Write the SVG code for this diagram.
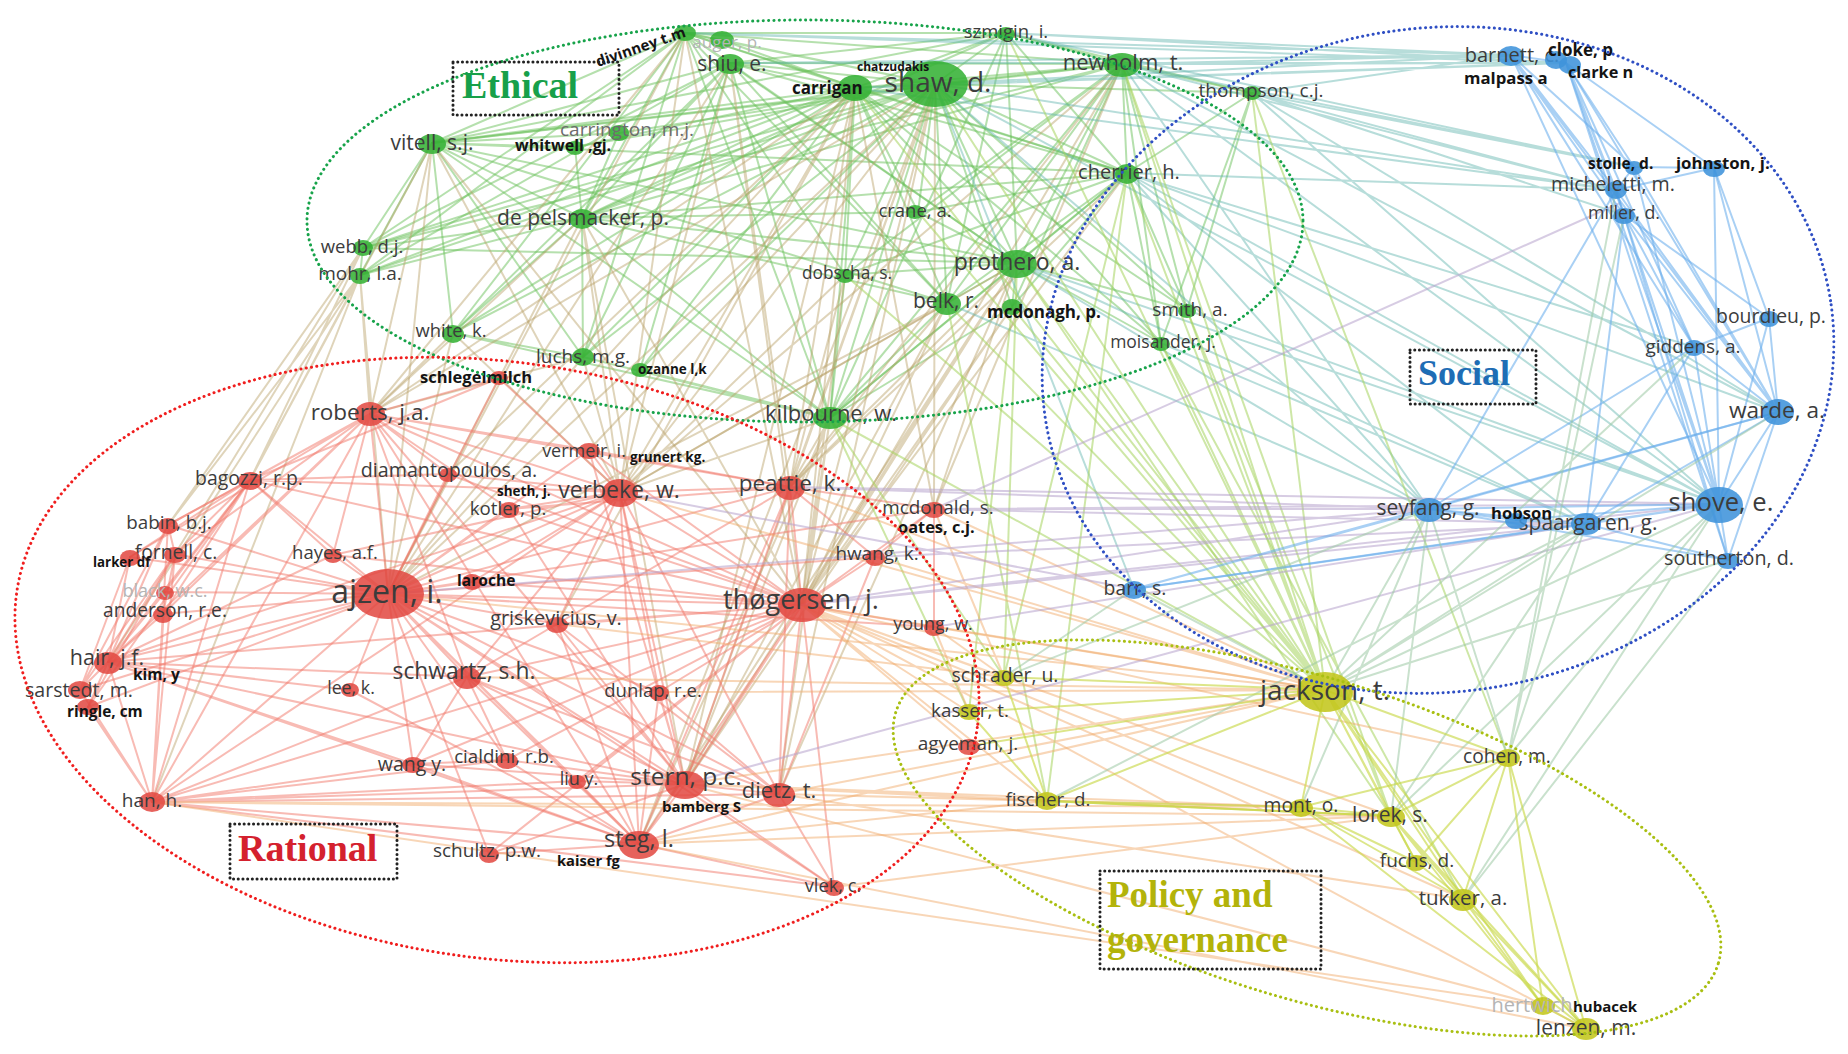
<svg xmlns="http://www.w3.org/2000/svg" width="1848" height="1054" viewBox="0 0 1848 1054">
<style>
.e path{fill:none;stroke-width:2;stroke-linecap:round}
.eg{stroke:#6cc25c;stroke-opacity:.5}
.er{stroke:#f2786a;stroke-opacity:.5}
.eb{stroke:#6aaeec;stroke-opacity:.58}
.ey{stroke:#c9d84a;stroke-opacity:.65}
.egr{stroke:#b9a066;stroke-opacity:.45}
.egb{stroke:#5fb3ad;stroke-opacity:.45}
.egy{stroke:#a6d45e;stroke-opacity:.55}
.ery{stroke:#f1aa68;stroke-opacity:.48}
.erb{stroke:#b7a2cc;stroke-opacity:.55}
.eby{stroke:#9cc9a4;stroke-opacity:.55}
.G ellipse{fill:#36b236;fill-opacity:.88}
.R ellipse{fill:#e2463f;fill-opacity:.85}
.B ellipse{fill:#3f93db;fill-opacity:.88}
.Y ellipse{fill:#c3c61c;fill-opacity:.88}
.lb{font-family:"Open Sans","Liberation Sans",sans-serif;fill:#3c3c3c;text-anchor:middle}
.fd{fill:#b4b4b4}
.gy{fill:#6c6c6c}
.bd{font-family:"Open Sans","Liberation Sans",sans-serif;font-weight:700;fill:#141414}
.cl{fill:none;stroke-width:3;stroke-dasharray:0.1 5.2;stroke-linecap:round}
.bx{fill:none;stroke:#222;stroke-width:3;stroke-dasharray:0.1 4.6;stroke-linecap:round}
.tt{font-family:"Liberation Serif","Times New Roman",serif;font-weight:700}
</style>
<rect width="1848" height="1054" fill="#fff"/>
<g id="connectors" class="e">
<path class="eg" d="M935 84L855 88M935 84L685 33M935 84L722 40M935 84L730 63M935 84L1006 33M935 84L1122 64M935 84L1252 93M935 84L1127 173M935 84L918 212M935 84L1017 263M935 84L947 303M935 84L1012 307M935 84L1187 310M935 84L1161 343M935 84L432 143M935 84L575 147M935 84L619 133M935 84L582 218M935 84L845 275M935 84L583 357M935 84L640 370M935 84L830 418M935 84L453 333M935 84L363 248M935 84L360 275"/>
<path class="eg" d="M855 88L685 33M855 88L730 63M855 88L722 40M855 88L1006 33M855 88L1122 64M855 88L1127 173M855 88L1017 263M855 88L947 303M855 88L432 143M855 88L582 218M855 88L363 248M855 88L360 275M855 88L453 333M855 88L583 357M855 88L830 418M855 88L1161 343M855 88L1187 310M855 88L845 275M855 88L918 212M855 88L575 147M855 88L640 370"/>
<path class="eg" d="M1122 64L685 33M1122 64L730 63M1122 64L1006 33M1122 64L1127 173M1122 64L1017 263M1122 64L947 303M1122 64L1012 307M1122 64L1187 310M1122 64L1161 343M1122 64L432 143M1122 64L582 218M1122 64L830 418M1122 64L1252 93M1122 64L918 212M1122 64L845 275M1122 64L363 248"/>
<path class="eg" d="M432 143L685 33M432 143L730 63M432 143L582 218M432 143L363 248M432 143L360 275M432 143L453 333M432 143L575 147M432 143L619 133M432 143L1017 263M432 143L830 418M432 143L1127 173M432 143L583 357M432 143L947 303"/>
<path class="eg" d="M685 33L730 63M685 33L722 40M685 33L1006 33M685 33L582 218M685 33L363 248M685 33L360 275M685 33L1017 263M685 33L1127 173M685 33L947 303M685 33L830 418M685 33L583 357M685 33L453 333M685 33L845 275"/>
<path class="eg" d="M730 63L582 218M730 63L363 248M730 63L360 275M730 63L1017 263M730 63L947 303M730 63L1127 173M730 63L830 418M730 63L453 333M730 63L583 357M730 63L640 370M730 63L1006 33"/>
<path class="eg" d="M1017 263L1127 173M1017 263L947 303M1017 263L1012 307M1017 263L830 418M1017 263L582 218M1017 263L845 275M1017 263L918 212M1017 263L1187 310M1017 263L1161 343M1017 263L1006 33M1017 263L363 248"/>
<path class="eg" d="M1127 173L1006 33M1127 173L1252 93M1127 173L1187 310M1127 173L1161 343M1127 173L947 303M1127 173L1012 307M1127 173L830 418M1127 173L918 212M1127 173L845 275M1127 173L582 218"/>
<path class="eg" d="M582 218L363 248M582 218L360 275M582 218L453 333M582 218L583 357M582 218L830 418M582 218L575 147M582 218L619 133M582 218L947 303M582 218L918 212M1006 33L432 143M1006 33L582 218M1006 33L947 303M1006 33L830 418M830 418L583 357M830 418L640 370M830 418L453 333M830 418L947 303M830 418L845 275M830 418L1012 307M360 275L363 248M453 333L583 357M1252 93L1187 310M1252 93L1161 343M1006 33L1252 93"/>
<path class="egr" d="M935 84L802 605M935 84L620 492M935 84L388 594M935 84L790 487M935 84L370 414M935 84L685 784M935 84L639 844M935 84L934 509M935 84L589 450M935 84L779 794"/>
<path class="egr" d="M855 88L802 605M855 88L620 492M855 88L388 594M855 88L370 414M855 88L790 487M855 88L934 509M855 88L557 624M855 88L448 474M855 88L685 784M1122 64L802 605M1122 64L790 487M1122 64L620 492M1122 64L934 509"/>
<path class="egr" d="M432 143L370 414M432 143L388 594M432 143L250 480M432 143L620 492M432 143L802 605M360 275L370 414M360 275L388 594M360 275L108 662M360 275L250 480M360 275L168 525M360 275L152 802M363 248L168 525M363 248L250 480M363 248L175 554M453 333L388 594M453 333L370 414M453 333L620 492"/>
<path class="egr" d="M685 33L620 492M685 33L802 605M685 33L370 414M685 33L388 594M730 63L620 492M730 63L790 487M730 63L802 605M730 63L388 594M1017 263L790 487M1017 263L802 605M1017 263L620 492M1017 263L779 794M1017 263L685 784M1017 263L934 509M1017 263L639 844"/>
<path class="egr" d="M947 303L802 605M947 303L620 492M947 303L790 487M947 303L388 594M947 303L685 784M830 418L802 605M830 418L790 487M830 418L685 784M830 418L779 794M830 418L620 492M830 418L639 844M583 357L370 414M583 357L388 594M583 357L620 492M582 218L370 414M582 218L620 492M582 218L802 605M582 218L388 594M582 218L685 784M1127 173L790 487M1127 173L802 605M845 275L790 487M845 275L620 492M845 275L802 605M1012 307L802 605M1012 307L685 784"/>
<path class="egb" d="M935 84L1511 55M935 84L1566 63M855 88L1511 55M855 88L1566 63M1122 64L1511 55M1122 64L1566 63M685 33L1511 55M730 63L1511 55M730 63L1566 63M1006 33L1511 55M1006 33L1566 63M1252 93L1511 55M685 33L1566 63"/>
<path class="egb" d="M1252 93L1634 167M1252 93L1616 190M1252 93L1624 215M1252 93L1719 504M1252 93L1778 412M1127 173L1719 504M1127 173L1778 412M1127 173L1429 509M1127 173L1586 524M1127 173L1694 347M1127 173L1616 190M1122 64L1634 167M1122 64L1616 190M1122 64L1719 504M1122 64L1778 412M1122 64L1429 509M935 84L1616 190M935 84L1719 504M935 84L1429 509M1017 263L1719 504M1017 263L1586 524M1017 263L1429 509M1187 310L1719 504M1161 343L1586 524M947 303L1429 509M855 88L1616 190M1006 33L1634 167M1134 589L935 84"/>
<path class="egy" d="M1127 173L1325 690M1187 310L1325 690M1161 343L1325 690M1122 64L1325 690M1017 263L1325 690M1252 93L1325 690M935 84L1325 690M947 303L1325 690M830 418L1325 690M1012 307L1325 690M918 212L1325 690M845 275L1325 690M855 88L1325 690M1006 33L1325 690"/>
<path class="egy" d="M1127 173L1004 677M1017 263L1004 677M830 418L969 712M1127 173L1047 801M947 303L1047 801M1122 64L1391 816M1252 93L1508 757M1187 310L1391 816M1161 343L1463 899M1017 263L1391 816M830 418L1004 677M1012 307L969 712"/>
<path class="er" d="M388 594L370 414M388 594L250 480M388 594L168 525M388 594L175 554M388 594L130 557M388 594L165 592M388 594L163 614M388 594L108 662M388 594L80 690M388 594L88 707M388 594L152 802M388 594L333 555M388 594L350 690M388 594L467 677M388 594L413 764M388 594L507 760M388 594L577 781M388 594L685 784M388 594L639 844M388 594L779 794M388 594L802 605M388 594L620 492M388 594L589 450M388 594L509 509M388 594L448 474M388 594L557 624M388 594L659 692M388 594L790 487M388 594L472 582M388 594L489 854M388 594L834 887M388 594L875 557M388 594L934 627M388 594L934 509"/>
<path class="er" d="M802 605L620 492M802 605L790 487M802 605L685 784M802 605L639 844M802 605L779 794M802 605L834 887M802 605L467 677M802 605L557 624M802 605L659 692M802 605L507 760M802 605L370 414M802 605L875 557M802 605L934 627M802 605L934 509M802 605L589 450M802 605L509 509M802 605L577 781M802 605L489 854M802 605L413 764M802 605L472 582M802 605L448 474M802 605L333 555M802 605L108 662M802 605L152 802M802 605L250 480"/>
<path class="er" d="M370 414L250 480M370 414L333 555M370 414L448 474M370 414L168 525M370 414L175 554M370 414L108 662M370 414L620 492M370 414L589 450M370 414L509 509M370 414L467 677M370 414L639 844M370 414L685 784M370 414L130 557M370 414L163 614M370 414L790 487M370 414L152 802"/>
<path class="er" d="M108 662L168 525M108 662L175 554M108 662L130 557M108 662L165 592M108 662L163 614M108 662L80 690M108 662L88 707M108 662L250 480M108 662L152 802M108 662L413 764M108 662L350 690M108 662L639 844M108 662L685 784M108 662L467 677M108 662L333 555M108 662L620 492"/>
<path class="er" d="M152 802L80 690M152 802L88 707M152 802L163 614M152 802L175 554M152 802L165 592M152 802L168 525M152 802L413 764M152 802L639 844M152 802L685 784M152 802L507 760M152 802L467 677M152 802L620 492M152 802L779 794M152 802L834 887M152 802L577 781M152 802L250 480"/>
<path class="er" d="M685 784L639 844M685 784L779 794M685 784L467 677M685 784L507 760M685 784L577 781M685 784L557 624M685 784L659 692M685 784L834 887M685 784L489 854M685 784L413 764M685 784L620 492M685 784L790 487M685 784L589 450M685 784L509 509"/>
<path class="er" d="M639 844L779 794M639 844L834 887M639 844L489 854M639 844L507 760M639 844L577 781M639 844L467 677M639 844L659 692M639 844L557 624M639 844L620 492M639 844L790 487M639 844L413 764M639 844L350 690M779 794L834 887M779 794L467 677M779 794L659 692M779 794L790 487M779 794L620 492M779 794L557 624M779 794L875 557"/>
<path class="er" d="M620 492L589 450M620 492L509 509M620 492L790 487M620 492L448 474M620 492L557 624M620 492L472 582M620 492L467 677M620 492L659 692M620 492L333 555M620 492L250 480M250 480L168 525M250 480L175 554M250 480L130 557M250 480L165 592M250 480L163 614M250 480L448 474M250 480L333 555M790 487L589 450M790 487L875 557M790 487L934 509M790 487L557 624M790 487L509 509"/>
<path class="er" d="M80 690L175 554M80 690L130 557M80 690L168 525M88 707L250 480M88 707L175 554M163 614L175 554M168 525L175 554M413 764L507 760M413 764L467 677M507 760L467 677M557 624L467 677M934 509L875 557M934 509L934 627M499 378L370 414M499 378L388 594M499 378L620 492M499 378L250 480"/>
<path class="ery" d="M802 605L1325 690M802 605L1004 677M802 605L969 712M802 605L1047 801M802 605L1301 807M802 605L1391 816M802 605L969 746M802 605L1463 899M802 605L1508 757M685 784L1325 690M685 784L1047 801M685 784L1301 807M685 784L1391 816M639 844L1325 690M639 844L1047 801M639 844L1391 816"/>
<path class="ery" d="M779 794L1325 690M779 794L1047 801M779 794L1301 807M779 794L1463 899M790 487L1325 690M934 627L1325 690M388 594L1325 690M934 509L1325 690M934 509L1004 677M875 557L1325 690M152 802L1391 816M152 802L1301 807M834 887L1391 816M620 492L1325 690M467 677L1325 690M659 692L1325 690M557 624L1004 677M934 627L1004 677M934 627L969 712M152 802L1543 1006M639 844L1586 1029M685 784L1543 1006M802 605L1586 1029"/>
<path class="erb" d="M934 509L1719 504M934 509L1429 509M934 509L1586 524M802 605L1719 504M802 605L1586 524M802 605L1429 509M790 487L1429 509M790 487L1719 504M620 492L1134 589M934 627L1586 524M934 509L1620 203M388 594L1429 509M685 784L1719 504M875 557L1586 524"/>
<path class="eb" d="M1719 504L1778 412M1719 504L1586 524M1719 504L1429 509M1719 504L1516 520M1719 504L1728 560M1719 504L1134 589M1719 504L1769 318M1719 504L1694 347M1719 504L1624 215M1719 504L1616 190M1719 504L1634 167M1719 504L1714 168M1719 504L1511 55M1719 504L1566 63"/>
<path class="eb" d="M1778 412L1769 318M1778 412L1694 347M1778 412L1624 215M1778 412L1616 190M1778 412L1586 524M1778 412L1429 509M1778 412L1728 560M1778 412L1714 168M1778 412L1634 167M1778 412L1566 63M1511 55L1566 63M1511 55L1616 190M1511 55L1624 215M1511 55L1634 167M1511 55L1694 347M1511 55L1778 412"/>
<path class="eb" d="M1566 63L1616 190M1566 63L1624 215M1566 63L1634 167M1566 63L1714 168M1566 63L1728 560M1566 63L1694 347M1714 168L1634 167M1714 168L1616 190M1714 168L1769 318M1586 524L1429 509M1586 524L1516 520M1586 524L1728 560M1586 524L1134 589M1586 524L1624 215M1586 524L1694 347"/>
<path class="eb" d="M1429 509L1134 589M1429 509L1516 520M1429 509L1728 560M1429 509L1694 347M1429 509L1616 190M1624 215L1769 318M1624 215L1694 347M1624 215L1728 560M1616 190L1624 215M1634 167L1616 190M1134 589L1778 412M1769 318L1694 347"/>
<path class="eby" d="M1325 690L1719 504M1325 690L1586 524M1325 690L1429 509M1325 690L1728 560M1325 690L1778 412M1325 690L1134 589M1325 690L1694 347M1508 757L1586 524M1508 757L1719 504M1508 757L1429 509M1508 757L1624 215M1508 757L1616 190M1391 816L1586 524M1391 816L1719 504M1391 816L1429 509M1463 899L1719 504M1463 899L1728 560M1301 807L1429 509M1047 801L1586 524M1004 677L1134 589M1004 677L1429 509"/>
<path class="ey" d="M1325 690L1004 677M1325 690L969 712M1325 690L969 746M1325 690L1047 801M1325 690L1301 807M1325 690L1391 816M1325 690L1508 757M1325 690L1416 862M1325 690L1463 899M1325 690L1543 1006M1325 690L1586 1029"/>
<path class="ey" d="M1391 816L1301 807M1391 816L1508 757M1391 816L1416 862M1391 816L1463 899M1391 816L1543 1006M1391 816L1586 1029M1391 816L1047 801M1508 757L1416 862M1508 757L1463 899M1508 757L1543 1006M1508 757L1586 1029M1508 757L1301 807"/>
<path class="ey" d="M1463 899L1416 862M1463 899L1543 1006M1463 899L1586 1029M1463 899L1301 807M1047 801L1004 677M1047 801L969 712M1047 801L1301 807M1543 1006L1586 1029M1301 807L1416 862M1301 807L1586 1029M1047 801L1391 816"/>
</g>
<g id="nodes">
<g id="n-shaw" class="G"><ellipse cx="935" cy="84" rx="33" ry="23"/><text class="lb" x="938" y="92" font-size="28">shaw, d.</text></g>
<g id="n-carrigan" class="G"><ellipse cx="855" cy="88" rx="17" ry="13"/><text class="bd" x="792" y="94" font-size="17">carrigan</text></g>
<g id="n-chatzudakis" class="G"><text class="bd" x="857" y="71" font-size="12">chatzudakis</text></g>
<g id="n-divinney" class="G"><ellipse cx="685" cy="33" rx="11" ry="8"/><text class="bd" font-size="15" transform="translate(598 67) rotate(-19)">divinney t.m</text></g>
<g id="n-auger" class="G"><ellipse cx="722" cy="40" rx="12" ry="9"/><text class="lb fd" x="727" y="48" font-size="17">auger, p.</text></g>
<g id="n-shiu" class="G"><ellipse cx="730" cy="64" rx="14" ry="10"/><text class="lb" x="732" y="71" font-size="21">shiu, e.</text></g>
<g id="n-szmigin" class="G"><ellipse cx="1006" cy="34" rx="9" ry="7"/><text class="lb" x="1006" y="38" font-size="18.5">szmigin, i.</text></g>
<g id="n-newholm" class="G"><ellipse cx="1122" cy="65" rx="18" ry="12"/><text class="lb" x="1123" y="70" font-size="22">newholm, t.</text></g>
<g id="n-thompson" class="G"><ellipse cx="1252" cy="93" rx="9" ry="7"/><text class="lb" x="1261" y="97" font-size="19">thompson, c.j.</text></g>
<g id="n-cherrier" class="G"><ellipse cx="1127" cy="174" rx="12" ry="10"/><text class="lb" x="1129" y="179" font-size="20">cherrier, h.</text></g>
<g id="n-crane" class="G"><ellipse cx="915" cy="212" rx="9" ry="7"/><text class="lb" x="915" y="217" font-size="18.5">crane, a.</text></g>
<g id="n-prothero" class="G"><ellipse cx="1017" cy="264" rx="20" ry="14"/><text class="lb" x="1017" y="270" font-size="23">prothero, a.</text></g>
<g id="n-belk" class="G"><ellipse cx="947" cy="304" rx="14" ry="11"/><text class="lb" x="946" y="308" font-size="21">belk, r.</text></g>
<g id="n-mcdonagh" class="G"><ellipse cx="1012" cy="307" rx="10" ry="8"/><text class="bd" x="987" y="318" font-size="17">mcdonagh, p.</text></g>
<g id="n-smith" class="G"><ellipse cx="1187" cy="311" rx="9" ry="7"/><text class="lb" x="1190" y="316" font-size="19">smith, a.</text></g>
<g id="n-moisander" class="G"><ellipse cx="1161" cy="344" rx="9" ry="7"/><text class="lb" x="1163" y="348" font-size="17.5">moisander, j.</text></g>
<g id="n-vitell" class="G"><ellipse cx="432" cy="144" rx="14" ry="10"/><text class="lb" x="432" y="150" font-size="21">vitell, s.j.</text></g>
<g id="n-whitwell" class="G"><ellipse cx="575" cy="148" rx="9" ry="7"/><text class="bd" x="515" y="151" font-size="16">whitwell ,gj.</text></g>
<g id="n-carrington" class="G"><ellipse cx="619" cy="133" rx="10" ry="8"/><text class="lb gy" x="627" y="136" font-size="19">carrington, m.j.</text></g>
<g id="n-depelsmacker" class="G"><ellipse cx="582" cy="219" rx="13" ry="10"/><text class="lb" x="583" y="225" font-size="21">de pelsmacker, p.</text></g>
<g id="n-webb" class="G"><ellipse cx="363" cy="248" rx="10" ry="8"/><text class="lb" x="362" y="253" font-size="18.5">webb, d.j.</text></g>
<g id="n-mohr" class="G"><ellipse cx="360" cy="276" rx="10" ry="8"/><text class="lb" x="360" y="280" font-size="19">mohr, l.a.</text></g>
<g id="n-white" class="G"><ellipse cx="453" cy="334" rx="11" ry="9"/><text class="lb" x="451" y="337" font-size="18.4">white, k.</text></g>
<g id="n-dobscha" class="G"><ellipse cx="845" cy="276" rx="9" ry="7"/><text class="lb" x="847" y="279" font-size="17.3">dobscha, s.</text></g>
<g id="n-luchs" class="G"><ellipse cx="583" cy="357" rx="11" ry="9"/><text class="lb" x="583" y="363" font-size="19">luchs, m.g.</text></g>
<g id="n-ozanne" class="G"><ellipse cx="640" cy="370" rx="9" ry="7"/><text class="bd" x="638" y="374" font-size="13.5">ozanne l,k</text></g>
<g id="n-kilbourne" class="G"><ellipse cx="830" cy="418" rx="17" ry="11"/><text class="lb" x="831" y="421" font-size="22">kilbourne, w.</text></g>
<g id="n-schlegelmilch" class="R"><ellipse cx="499" cy="378" rx="9" ry="7"/><text class="bd" x="420" y="383" font-size="16.5">schlegelmilch</text></g>
<g id="n-ajzen" class="R"><ellipse cx="388" cy="594" rx="36" ry="25"/><text class="lb" x="387" y="603" font-size="32">ajzen, i.</text></g>
<g id="n-thogersen" class="R"><ellipse cx="802" cy="605" rx="24" ry="17"/><text class="lb" x="801" y="609" font-size="27">thøgersen, j.</text></g>
<g id="n-verbeke" class="R"><ellipse cx="620" cy="493" rx="18" ry="14"/><text class="lb" x="619" y="498" font-size="23">verbeke, w.</text></g>
<g id="n-stern" class="R"><ellipse cx="685" cy="785" rx="20" ry="14"/><text class="lb" x="686" y="785" font-size="24.5">stern, p.c.</text></g>
<g id="n-steg" class="R"><ellipse cx="639" cy="845" rx="20" ry="14"/><text class="lb" x="639" y="847" font-size="23.5">steg, l.</text></g>
<g id="n-dietz" class="R"><ellipse cx="779" cy="795" rx="16" ry="12"/><text class="lb" x="779" y="798" font-size="22">dietz, t.</text></g>
<g id="n-roberts" class="R"><ellipse cx="370" cy="414" rx="15" ry="12"/><text class="lb" x="370" y="420" font-size="22.5">roberts, j.a.</text></g>
<g id="n-peattie" class="R"><ellipse cx="790" cy="488" rx="15" ry="12"/><text class="lb" x="790" y="491" font-size="22.5">peattie, k.</text></g>
<g id="n-schwartz" class="R"><ellipse cx="467" cy="678" rx="14" ry="11"/><text class="lb" x="464" y="679" font-size="22.8">schwartz, s.h.</text></g>
<g id="n-hair" class="R"><ellipse cx="108" cy="663" rx="14" ry="11"/><text class="lb" x="107" y="665" font-size="21.5">hair, j.f.</text></g>
<g id="n-kim" class="R"><text class="bd" x="133" y="680" font-size="15.5">kim, y</text></g>
<g id="n-sarstedt" class="R"><ellipse cx="80" cy="690" rx="12" ry="9"/><text class="lb" x="79" y="697" font-size="19.6">sarstedt, m.</text></g>
<g id="n-ringle" class="R"><ellipse cx="88" cy="707" rx="11" ry="8"/><text class="bd" x="67" y="717" font-size="15.4">ringle, cm</text></g>
<g id="n-han" class="R"><ellipse cx="152" cy="802" rx="13" ry="10"/><text class="lb" x="152" y="807" font-size="19">han, h.</text></g>
<g id="n-bagozzi" class="R"><ellipse cx="250" cy="481" rx="12" ry="9"/><text class="lb" x="249" y="485" font-size="19.4">bagozzi, r.p.</text></g>
<g id="n-babin" class="R"><ellipse cx="168" cy="526" rx="10" ry="8"/><text class="lb" x="169" y="529" font-size="18.8">babin, b.j.</text></g>
<g id="n-fornell" class="R"><ellipse cx="175" cy="555" rx="11" ry="8"/><text class="lb" x="176" y="559" font-size="19.3">fornell, c.</text></g>
<g id="n-larker" class="R"><ellipse cx="130" cy="558" rx="10" ry="8"/><text class="bd" x="93" y="567" font-size="13.3">larker df</text></g>
<g id="n-black" class="R"><ellipse cx="165" cy="593" rx="9" ry="7"/><text class="lb fd" x="165" y="597" font-size="18">black, w.c.</text></g>
<g id="n-anderson" class="R"><ellipse cx="163" cy="615" rx="10" ry="8"/><text class="lb" x="165" y="617" font-size="19.2">anderson, r.e.</text></g>
<g id="n-hayes" class="R"><ellipse cx="333" cy="556" rx="9" ry="7"/><text class="lb" x="335" y="559" font-size="18.5">hayes, a.f.</text></g>
<g id="n-diamantopoulos" class="R"><ellipse cx="448" cy="475" rx="9" ry="7"/><text class="lb" x="449" y="477" font-size="19.7">diamantopoulos, a.</text></g>
<g id="n-lee" class="R"><ellipse cx="350" cy="690" rx="9" ry="7"/><text class="lb" x="351" y="694" font-size="17.8">lee, k.</text></g>
<g id="n-wang" class="R"><ellipse cx="413" cy="765" rx="11" ry="8"/><text class="lb" x="412" y="771" font-size="19.5">wang y.</text></g>
<g id="n-cialdini" class="R"><ellipse cx="507" cy="761" rx="11" ry="8"/><text class="lb" x="504" y="763" font-size="18.7">cialdini, r.b.</text></g>
<g id="n-liu" class="R"><ellipse cx="577" cy="782" rx="9" ry="7"/><text class="lb" x="579" y="785" font-size="18">liu y.</text></g>
<g id="n-schultz" class="R"><ellipse cx="489" cy="855" rx="10" ry="8"/><text class="lb" x="487" y="857" font-size="19">schultz, p.w.</text></g>
<g id="n-kaiser" class="R"><text class="bd" x="557" y="866" font-size="14.7">kaiser fg</text></g>
<g id="n-bamberg" class="R"><text class="bd" x="662" y="812" font-size="15">bamberg S</text></g>
<g id="n-vlek" class="R"><ellipse cx="834" cy="888" rx="10" ry="8"/><text class="lb" x="833" y="892" font-size="18.3">vlek, c.</text></g>
<g id="n-vermeir" class="R"><ellipse cx="589" cy="451" rx="11" ry="8"/><text class="lb" x="584" y="457" font-size="18">vermeir, i.</text></g>
<g id="n-grunert" class="R"><text class="bd" x="630" y="462" font-size="13.6">grunert kg.</text></g>
<g id="n-sheth" class="R"><text class="bd" x="497" y="496" font-size="13.5">sheth, j.</text></g>
<g id="n-kotler" class="R"><ellipse cx="509" cy="510" rx="10" ry="8"/><text class="lb" x="508" y="515" font-size="18.7">kotler, p.</text></g>
<g id="n-griskevicius" class="R"><ellipse cx="557" cy="625" rx="11" ry="8"/><text class="lb" x="556" y="625" font-size="19.9">griskevicius, v.</text></g>
<g id="n-dunlap" class="R"><ellipse cx="659" cy="693" rx="10" ry="8"/><text class="lb" x="653" y="697" font-size="18.5">dunlap, r.e.</text></g>
<g id="n-hwang" class="R"><ellipse cx="875" cy="558" rx="10" ry="8"/><text class="lb" x="877" y="560" font-size="18.9">hwang, k.</text></g>
<g id="n-mcdonald" class="R"><ellipse cx="934" cy="510" rx="11" ry="8"/><text class="lb" x="938" y="514" font-size="18.9">mcdonald, s.</text></g>
<g id="n-oates" class="R"><text class="bd" x="898" y="533" font-size="16.4">oates, c.j.</text></g>
<g id="n-young" class="R"><ellipse cx="934" cy="628" rx="10" ry="8"/><text class="lb" x="933" y="630" font-size="18">young, w.</text></g>
<g id="n-laroche" class="R"><ellipse cx="472" cy="582" rx="10" ry="8"/><text class="bd" x="457" y="586" font-size="15.6">laroche</text></g>
<g id="n-agyeman" class="R"><ellipse cx="969" cy="747" rx="11" ry="8"/><text class="lb" x="968" y="750" font-size="19">agyeman, j.</text></g>
<g id="n-jackson" class="Y"><ellipse cx="1325" cy="692" rx="28" ry="20"/><text class="lb" x="1325" y="700" font-size="28">jackson, t.</text></g>
<g id="n-schrader" class="Y"><ellipse cx="1004" cy="678" rx="11" ry="8"/><text class="lb" x="1005" y="682" font-size="19.4">schrader, u.</text></g>
<g id="n-kasser" class="Y"><ellipse cx="969" cy="712" rx="11" ry="8"/><text class="lb" x="970" y="717" font-size="18.8">kasser, t.</text></g>
<g id="n-fischer" class="Y"><ellipse cx="1047" cy="801" rx="12" ry="9"/><text class="lb" x="1048" y="806" font-size="18.8">fischer, d.</text></g>
<g id="n-mont" class="Y"><ellipse cx="1301" cy="808" rx="12" ry="9"/><text class="lb" x="1301" y="812" font-size="19.3">mont, o.</text></g>
<g id="n-lorek" class="Y"><ellipse cx="1391" cy="817" rx="14" ry="10"/><text class="lb" x="1390" y="822" font-size="21">lorek, s.</text></g>
<g id="n-cohen" class="Y"><ellipse cx="1508" cy="758" rx="12" ry="9"/><text class="lb" x="1507" y="763" font-size="19.2">cohen, m.</text></g>
<g id="n-fuchs" class="Y"><ellipse cx="1416" cy="863" rx="10" ry="8"/><text class="lb" x="1417" y="867" font-size="19">fuchs, d.</text></g>
<g id="n-tukker" class="Y"><ellipse cx="1463" cy="900" rx="14" ry="11"/><text class="lb" x="1463" y="905" font-size="20.5">tukker, a.</text></g>
<g id="n-hertwich" class="Y"><ellipse cx="1543" cy="1006" rx="12" ry="9"/><text class="lb fd" x="1532" y="1012" font-size="20">hertwich</text></g>
<g id="n-hubacek" class="Y"><text class="bd" x="1573" y="1012" font-size="15">hubacek</text></g>
<g id="n-lenzen" class="Y"><ellipse cx="1586" cy="1029" rx="14" ry="11"/><text class="lb" x="1586" y="1035" font-size="21">lenzen, m.</text></g>
<g id="n-shove" class="B"><ellipse cx="1719" cy="505" rx="24" ry="18"/><text class="lb" x="1721" y="511" font-size="25.6">shove, e.</text></g>
<g id="n-warde" class="B"><ellipse cx="1778" cy="412" rx="16" ry="13"/><text class="lb" x="1777" y="418" font-size="22.6">warde, a.</text></g>
<g id="n-spaargaren" class="B"><ellipse cx="1586" cy="524" rx="15" ry="11"/><text class="lb" x="1588" y="530" font-size="21">spaargaren, g.</text></g>
<g id="n-seyfang" class="B"><ellipse cx="1429" cy="510" rx="15" ry="12"/><text class="lb" x="1428" y="515" font-size="21">seyfang, g.</text></g>
<g id="n-hobson" class="B"><ellipse cx="1516" cy="521" rx="11" ry="8"/><text class="bd" x="1491" y="519" font-size="16.6">hobson</text></g>
<g id="n-southerton" class="B"><ellipse cx="1728" cy="561" rx="11" ry="8"/><text class="lb" x="1729" y="565" font-size="19.7">southerton, d.</text></g>
<g id="n-barr" class="B"><ellipse cx="1134" cy="590" rx="12" ry="9"/><text class="lb" x="1135" y="595" font-size="19.4">barr, s.</text></g>
<g id="n-bourdieu" class="B"><ellipse cx="1769" cy="319" rx="10" ry="8"/><text class="lb" x="1771" y="323" font-size="19.4">bourdieu, p.</text></g>
<g id="n-giddens" class="B"><ellipse cx="1694" cy="348" rx="10" ry="8"/><text class="lb" x="1693" y="353" font-size="19">giddens, a.</text></g>
<g id="n-miller" class="B"><ellipse cx="1624" cy="216" rx="11" ry="8"/><text class="lb" x="1624" y="219" font-size="17.8">miller, d.</text></g>
<g id="n-micheletti" class="B"><ellipse cx="1616" cy="190" rx="11" ry="9"/><text class="lb" x="1613" y="191" font-size="19.6">micheletti, m.</text></g>
<g id="n-stolle" class="B"><ellipse cx="1634" cy="168" rx="9" ry="7"/><text class="bd" x="1588" y="169" font-size="15.5">stolle, d.</text></g>
<g id="n-johnston" class="B"><ellipse cx="1714" cy="169" rx="11" ry="8"/><text class="bd" x="1676" y="169" font-size="16.8">johnston, j.</text></g>
<g id="n-barnett" class="B"><ellipse cx="1511" cy="56" rx="13" ry="10"/><text class="lb" x="1512" y="62" font-size="20">barnett, c.</text></g>
<g id="n-cloke" class="B"><ellipse cx="1556" cy="60" rx="11" ry="9"/><text class="bd" x="1548" y="56" font-size="17">cloke, p</text></g>
<g id="n-clarke" class="B"><ellipse cx="1570" cy="65" rx="11" ry="9"/><text class="bd" x="1568" y="78" font-size="16.3">clarke n</text></g>
<g id="n-malpass" class="B"><text class="bd" x="1464" y="84" font-size="16.8">malpass a</text></g>
</g>
<g id="clusters">
<ellipse class="cl" cx="805" cy="221" rx="498" ry="201" stroke="#17a34a"/>
<ellipse class="cl" cx="497" cy="660" rx="485" ry="298" transform="rotate(8 497 660)" stroke="#f01e1e"/>
<ellipse class="cl" cx="1438" cy="360" rx="397" ry="332" transform="rotate(-8 1438 360)" stroke="#2f4fc4"/>
<ellipse class="cl" cx="1307" cy="838" rx="430" ry="160" transform="rotate(17 1307 838)" stroke="#a9bf12"/>
</g>
<g id="group-labels">
<g id="lbl-ethical"><rect class="bx" x="453" y="62" width="166" height="53"/><text class="tt" x="462" y="98" font-size="38" fill="#17a04a">Ethical</text></g>
<g id="lbl-social"><rect class="bx" x="1410" y="350" width="126" height="54"/><text class="tt" x="1418" y="385" font-size="36" fill="#1e6db5">Social</text></g>
<g id="lbl-rational"><rect class="bx" x="230" y="824" width="167" height="55"/><text class="tt" x="238" y="861" font-size="38" fill="#d4212e">Rational</text></g>
<g id="lbl-policy"><rect class="bx" x="1100" y="871" width="221" height="98"/><text class="tt" x="1107" y="907" font-size="37" fill="#b3b30a">Policy and</text><text class="tt" x="1107" y="952" font-size="37" fill="#b3b30a">governance</text></g>
</g>
</svg>
